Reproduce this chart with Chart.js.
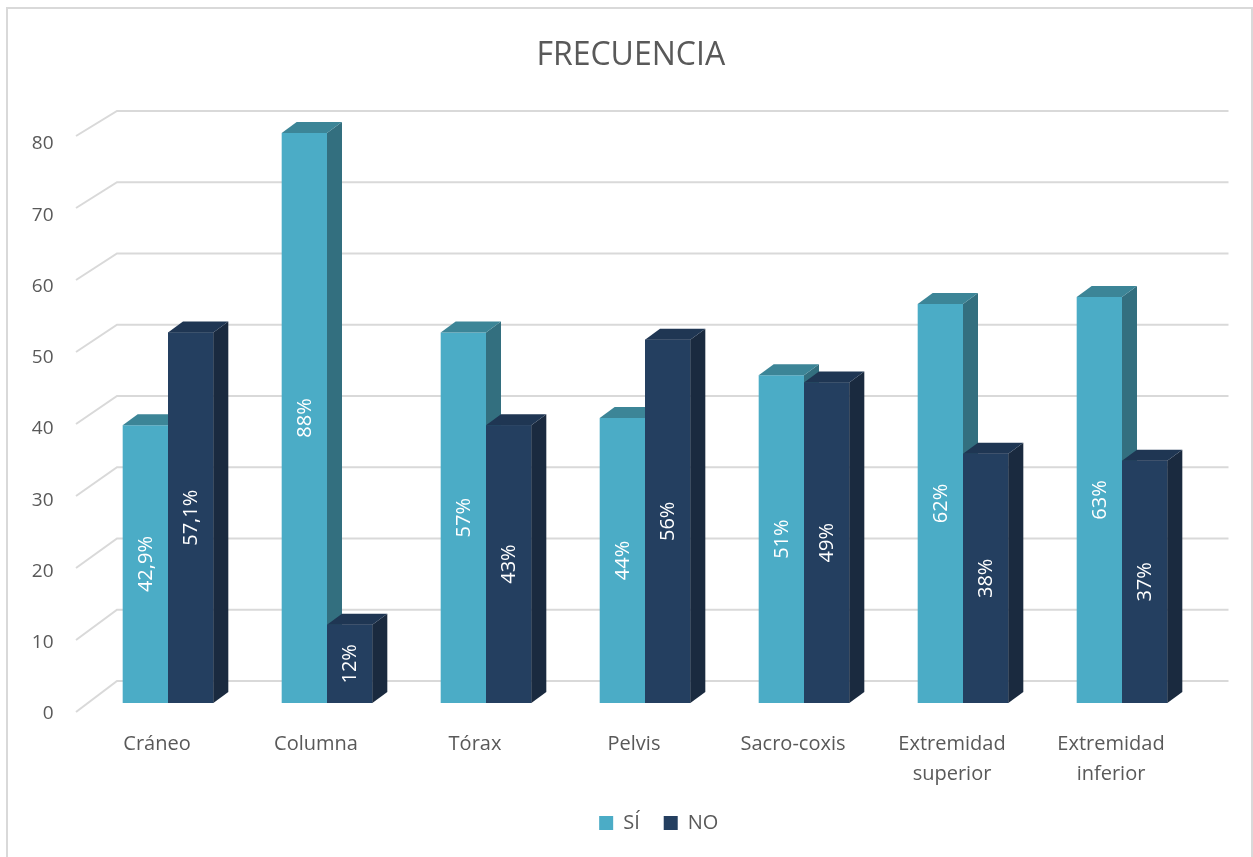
<!DOCTYPE html>
<html>
<head>
<meta charset="utf-8">
<script src="https://cdn.jsdelivr.net/npm/chart.js@4.4.1/dist/chart.umd.min.js"></script>
<style>
  html, body { margin: 0; padding: 0; background: #fff; }
  #wrap { width: 1253px; height: 857px; }
</style>
</head>
<body>
<div id="wrap"><canvas id="chart" width="1253" height="857"></canvas></div>
<script>
// Data
const categories = ['Cráneo', 'Columna', 'Tórax', 'Pelvis', 'Sacro-coxis', ['Extremidad', 'superior'], ['Extremidad', 'inferior']];
const siValues = [39, 80, 52, 40, 46, 56, 57];
const noValues = [52, 11, 39, 51, 45, 35, 34];
const siLabels = ['42,9%', '88%', '57%', '44%', '51%', '62%', '63%'];
const noLabels = ['57,1%', '12%', '43%', '56%', '49%', '38%', '37%'];
const yMin = 0, yMax = 80, yStep = 10;

// Colours: front / side / top
const siColors = { front: '#4bacc6', side: '#336f7f', top: '#3c8597' };
const noColors = { front: '#243f60', side: '#1a2a3f', top: '#1f3653' };
const textColor = '#595959';

Chart.defaults.font.family = "'Open Sans', sans-serif";

const DEPTH_X = 15, DEPTH_Y = -11;

// White background, outer frame, and title/legend nudged to the reference spots
const framePlugin = {
  id: 'frame',
  afterLayout(chart) {
    chart.titleBlock.left += 30;
    chart.titleBlock.right += 30;
    chart.legend.left += 58;
    chart.legend.right += 58;
  },
  beforeDraw(chart) {
    const ctx = chart.ctx;
    ctx.save();
    ctx.fillStyle = '#fff';
    ctx.fillRect(0, 0, chart.width, chart.height);
    ctx.strokeStyle = '#d9d9d9';
    ctx.lineWidth = 2;
    ctx.strokeRect(7, 8, 1245, 870);
    ctx.restore();
  }
};

// Back wall + side wall gridlines
const wallGridPlugin = {
  id: 'wallGrid',
  beforeDatasetsDraw(chart) {
    const { ctx, chartArea: a, scales: { y } } = chart;
    ctx.save();
    ctx.strokeStyle = '#d9d9d9';
    ctx.lineWidth = 2;
    y.ticks.forEach(t => {
      const py = y.getPixelForValue(t.value);
      const frontY = py + 3 + (py - a.top) * 6 / (a.bottom - a.top);
      const backY = py - 22;
      ctx.beginPath();
      ctx.moveTo(a.left - 12.5, frontY);
      ctx.lineTo(a.left + 28.5, backY);
      ctx.lineTo(a.right + 27, backY);
      ctx.stroke();
    });
    ctx.restore();
  }
};

function drawFaces(ctx, el, colors) {
  const { x, y, base, width } = el.getProps(['x', 'y', 'base', 'width'], true);
  const l = x - width / 2, r = x + width / 2;
  ctx.fillStyle = colors.side;
  ctx.beginPath();
  ctx.moveTo(r, y);
  ctx.lineTo(r + DEPTH_X, y + DEPTH_Y);
  ctx.lineTo(r + DEPTH_X, base + DEPTH_Y);
  ctx.lineTo(r, base);
  ctx.closePath();
  ctx.fill();
  ctx.fillStyle = colors.top;
  ctx.beginPath();
  ctx.moveTo(l, y);
  ctx.lineTo(l + DEPTH_X, y + DEPTH_Y);
  ctx.lineTo(r + DEPTH_X, y + DEPTH_Y);
  ctx.lineTo(r, y);
  ctx.closePath();
  ctx.fill();
}

// Side/top faces: SÍ first, then NO front redrawn on top with its faces
const facesPlugin = {
  id: 'faces',
  afterDatasetsDraw(chart) {
    const ctx = chart.ctx;
    ctx.save();
    chart.getDatasetMeta(0).data.forEach(el => drawFaces(ctx, el, siColors));
    chart.getDatasetMeta(1).data.forEach(el => {
      el.draw(ctx);
      drawFaces(ctx, el, noColors);
    });
    ctx.restore();
  }
};

// Rotated percentage labels in the bars
const barLabelsPlugin = {
  id: 'barLabels',
  afterDatasetsDraw(chart) {
    const ctx = chart.ctx;
    const sets = [siLabels, noLabels];
    ctx.save();
    ctx.fillStyle = '#ffffff';
    ctx.font = "20px 'Open Sans', sans-serif";
    ctx.textAlign = 'center';
    ctx.textBaseline = 'middle';
    [0, 1].forEach(di => {
      chart.getDatasetMeta(di).data.forEach((el, i) => {
        const { x, y, base } = el.getProps(['x', 'y', 'base'], true);
        ctx.save();
        ctx.translate(x, (y + base) / 2);
        ctx.rotate(-Math.PI / 2);
        ctx.fillText(sets[di][i], 0, 1);
        ctx.restore();
      });
    });
    ctx.restore();
  }
};

new Chart(document.getElementById('chart'), {
  type: 'bar',
  data: {
    labels: categories,
    datasets: [
      { label: 'SÍ', data: siValues, backgroundColor: siColors.front },
      { label: 'NO', data: noValues, backgroundColor: noColors.front }
    ]
  },
  options: {
    responsive: false,
    animation: false,
    layout: { padding: { left: 0, right: 51.5, top: 0, bottom: 14 } },
    datasets: { bar: { categoryPercentage: 0.57, barPercentage: 1, borderWidth: 0 } },
    plugins: {
      title: {
        display: true,
        text: 'FRECUENCIA',
        color: textColor,
        font: { size: 32, weight: 'normal' },
        padding: { top: 37, bottom: 57.6 }
      },
      legend: {
        position: 'bottom',
        labels: { color: textColor, font: { size: 20 }, boxWidth: 14, boxHeight: 14, padding: 24 }
      },
      tooltip: { enabled: false }
    },
    scales: {
      x: {
        grid: { display: false },
        border: { display: false },
        ticks: { color: textColor, font: { size: 20, lineHeight: 1.5 }, padding: 18, labelOffset: -11, maxRotation: 0 },
        afterFit(scale) { scale.height = 86; }
      },
      y: {
        min: yMin,
        max: yMax,
        grid: { display: false },
        border: { display: false },
        ticks: { stepSize: yStep, color: textColor, font: { size: 19 }, padding: 27, labelOffset: 11 },
        afterFit(scale) { scale.width = 88.5; }
      }
    }
  },
  plugins: [framePlugin, wallGridPlugin, facesPlugin, barLabelsPlugin]
});
</script>
</body>
</html>
